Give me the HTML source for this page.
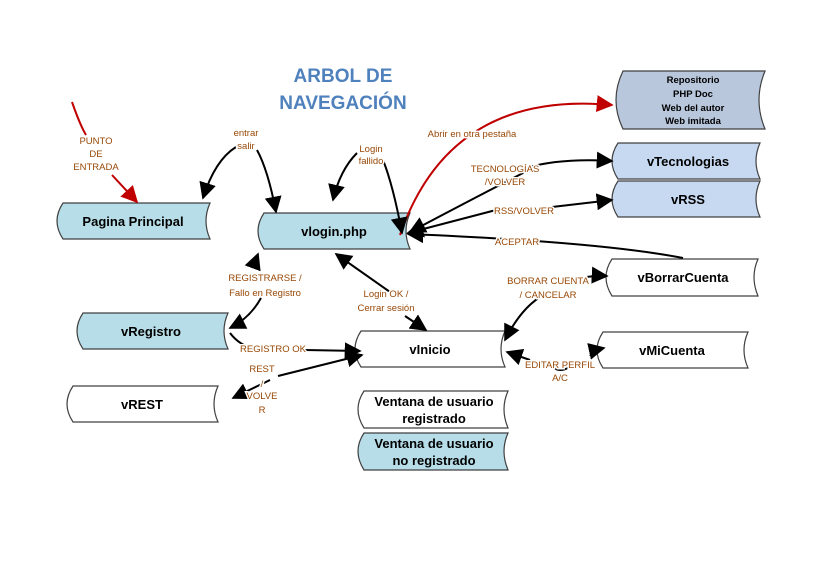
<!DOCTYPE html>
<html><head><meta charset="utf-8"><style>
body{margin:0;background:#fff;}
svg{display:block;font-family:"Liberation Sans",sans-serif;}
.n{font-weight:bold;font-size:13px;text-anchor:middle;fill:#000;}
.l{font-size:9.5px;fill:#984806;text-anchor:middle;stroke:#fff;stroke-width:3px;paint-order:stroke;}
</style></head><body>
<svg width="828" height="578" viewBox="0 0 828 578" xmlns="http://www.w3.org/2000/svg">
<defs>
<marker id="a" viewBox="0 0 10 10" refX="9" refY="5" markerWidth="17" markerHeight="17" markerUnits="userSpaceOnUse" orient="auto"><path d="M0,0 L10,5 L0,10 z" fill="#000"/></marker>
<marker id="r" viewBox="0 0 10 10" refX="9" refY="5" markerWidth="17" markerHeight="17" markerUnits="userSpaceOnUse" orient="auto"><path d="M0,0 L10,5 L0,10 z" fill="#c00000"/></marker>
</defs>
<text x="343" y="82" font-size="19" font-weight="bold" fill="#4f81bd" text-anchor="middle">ARBOL DE</text>
<text x="343" y="109" font-size="19" font-weight="bold" fill="#4f81bd" text-anchor="middle">NAVEGACIÓN</text>

<g stroke="#404040" stroke-width="1.2">
<path d="M63,203 H210 Q202,221 210,239 H63 Q51,221 63,203Z" fill="#b7dde8"/>
<path d="M264,213 H410 Q402,231 410,249 H264 Q252,231 264,213Z" fill="#b7dde8"/>
<path d="M623,71 H765 Q753,100 765,129 H623 Q609,100 623,71Z" fill="#b8c7dc"/>
<path d="M618,143 H760 Q752,161 760,179 H618 Q606,161 618,143Z" fill="#c6d9f1"/>
<path d="M618,181 H760 Q752,199 760,217 H618 Q606,199 618,181Z" fill="#c6d9f1"/>
<path d="M612,259 H758 Q750,277 758,296 H612 Q600,277 612,259Z" fill="#fff"/>
<path d="M603,332 H748 Q740,350 748,368 H603 Q591,350 603,332Z" fill="#fff"/>
<path d="M83,313 H228 Q220,331 228,349 H83 Q71,331 83,313Z" fill="#b7dde8"/>
<path d="M361,331 H505 Q497,349 505,367 H361 Q349,349 361,331Z" fill="#fff"/>
<path d="M73,386 H218 Q210,404 218,422 H73 Q61,404 73,386Z" fill="#fff"/>
<path d="M364,391 H508 Q500,409 508,428 H364 Q352,409 364,391Z" fill="#fff"/>
<path d="M364,433 H508 Q500,451 508,470 H364 Q352,451 364,433Z" fill="#b7dde8"/>
</g>

<g fill="none" stroke-width="2">
<path d="M72,102 Q80,125 86,135" stroke="#c00000"/>
<path d="M112,175 L137,202" stroke="#c00000" marker-end="url(#r)"/>
<path d="M400,235 Q450,90 612,105" stroke="#c00000" marker-end="url(#r)"/>
<g stroke="#000">
<path d="M236,147 Q215,160 203,198" marker-end="url(#a)"/>
<path d="M257,150 Q268,170 276,212" marker-end="url(#a)"/>
<path d="M357,153 Q340,170 333,200" marker-end="url(#a)"/>
<path d="M383,160 Q393,185 402,233" marker-end="url(#a)"/>
<path d="M525,172 Q480,195 410,232" marker-end="url(#a)"/>
<path d="M526,168 Q560,158 612,161" marker-end="url(#a)"/>
<path d="M496,210 L408,233" marker-end="url(#a)"/>
<path d="M552,207 L612,200" marker-end="url(#a)"/>
<path d="M683,258 Q600,242 408,234" marker-end="url(#a)"/>
<path d="M252,268 Q255,262 258,254" marker-end="url(#a)"/>
<path d="M261,298 Q250,318 230,328" marker-end="url(#a)"/>
<path d="M390,292 L336,254" marker-end="url(#a)"/>
<path d="M405,316 L426,330" marker-end="url(#a)"/>
<path d="M230,333 Q240,346 255,349"/>
<path d="M305,350 L360,351" marker-end="url(#a)"/>
<path d="M270,380 L233,398" marker-end="url(#a)"/>
<path d="M278,376 L362,355" marker-end="url(#a)"/>
<path d="M540,297 Q520,310 505,340" marker-end="url(#a)"/>
<path d="M565,281 Q590,275 607,276" marker-end="url(#a)"/>
<path d="M530,360 L507,352" marker-end="url(#a)"/>
<path d="M554,368 Q560,372 568,368"/>
<path d="M590,356 Q595,350 604,348" marker-end="url(#a)"/>
</g></g>

<text class="n" x="133" y="226">Pagina Principal</text>
<text class="n" x="334" y="236">vlogin.php</text>
<g font-size="9.5" font-weight="bold" text-anchor="middle"><text x="693" y="83">Repositorio</text><text x="693" y="97">PHP Doc</text><text x="693" y="111">Web del autor</text><text x="693" y="124">Web imitada</text></g>
<text class="n" x="688" y="166">vTecnologias</text>
<text class="n" x="688" y="204">vRSS</text>
<text class="n" x="683" y="282">vBorrarCuenta</text>
<text class="n" x="672" y="355">vMiCuenta</text>
<text class="n" x="151" y="336">vRegistro</text>
<text class="n" x="430" y="354">vInicio</text>
<text class="n" x="142" y="409">vREST</text>
<text class="n" x="434" y="406">Ventana de usuario</text><text class="n" x="434" y="423">registrado</text>
<text class="n" x="434" y="448">Ventana de usuario</text><text class="n" x="434" y="465">no registrado</text>

<g class="l">
<text x="96" y="144">PUNTO</text><text x="96" y="157">DE</text><text x="96" y="170">ENTRADA</text>
<text x="246" y="136">entrar</text><text x="246" y="149">salir</text>
<text x="371" y="152">Login</text><text x="371" y="164">fallido</text>
<text x="472" y="137">Abrir en otra pestaña</text>
<text x="505" y="172">TECNOLOGÍAS</text><text x="505" y="185">/VOLVER</text>
<text x="524" y="214">RSS/VOLVER</text>
<text x="517" y="245">ACEPTAR</text>
<text x="265" y="281">REGISTRARSE /</text><text x="265" y="296">Fallo en Registro</text>
<text x="386" y="297">Login OK /</text><text x="386" y="311">Cerrar sesión</text>
<text x="548" y="284">BORRAR CUENTA</text><text x="548" y="298">/ CANCELAR</text>
<text x="273" y="352">REGISTRO OK</text>
<text x="262" y="372">REST</text><text x="262" y="387">/</text><text x="262" y="399">VOLVE</text><text x="262" y="413">R</text>
<text x="560" y="368">EDITAR PERFIL</text><text x="560" y="381">A/C</text>
</g>
</svg>
</body></html>
